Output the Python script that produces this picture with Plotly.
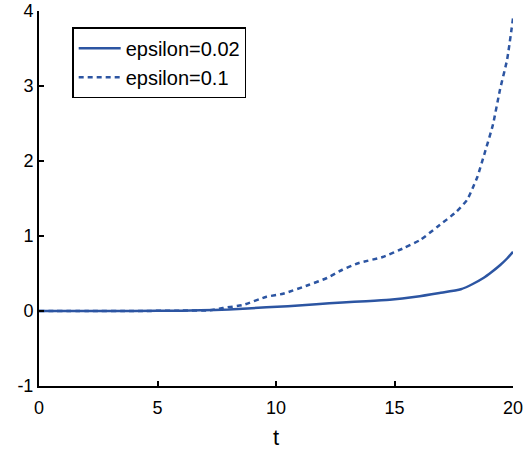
import plotly.graph_objects as go

t_small = [0, 2, 4, 6, 6.8, 8, 9.6, 10.5, 11.7, 12.8, 13.8, 14.8, 15.9, 16.9, 17.8, 18.3, 18.75, 19.1, 19.45, 19.75, 20]
y_small = [0, 0, 0, 0.005, 0.01, 0.02, 0.05, 0.065, 0.09, 0.115, 0.13, 0.15, 0.19, 0.24, 0.29, 0.36, 0.44, 0.52, 0.61, 0.70, 0.79]

t_large = [0, 2, 4, 6, 7.2, 7.76, 8.6, 9.6, 10.3, 11.4, 12.15, 12.8, 13.5, 14.5, 15.4, 16.1, 16.8, 17.6, 18.06, 18.3, 18.5, 18.8, 19.15, 19.45, 19.75, 20]
y_large = [0, 0, 0, 0.005, 0.01, 0.04, 0.08, 0.19, 0.23, 0.35, 0.44, 0.55, 0.64, 0.72, 0.84, 0.95, 1.12, 1.32, 1.48, 1.64, 1.79, 2.1, 2.48, 2.95, 3.35, 3.9]

x_ticks = [0, 5, 10, 15, 20]
x_labels = ["0", "5", "10", "15", "20"]
y_ticks = [-1, 0, 1, 2, 3, 4]
y_labels = ["-1", "0", "1", "2", "3", "4"]

color = "#2c55a2"

fig = go.Figure()
fig.add_trace(go.Scatter(x=t_small, y=y_small, mode="lines", name="epsilon=0.02",
                         line=dict(color=color, width=2.5, shape="spline", smoothing=0.5)))
fig.add_trace(go.Scatter(x=t_large, y=y_large, mode="lines", name="epsilon=0.1",
                         line=dict(color=color, width=2.5, dash="5px,4px", shape="spline", smoothing=0.5)))

fig.update_layout(
    width=526, height=450,
    margin=dict(l=39, r=13, t=11, b=64),
    paper_bgcolor="white", plot_bgcolor="white",
    font=dict(family="Liberation Sans, Arial, sans-serif", size=18, color="black"),
    showlegend=True,
    legend=dict(x=0.07, y=0.957, xanchor="left", yanchor="top",
                bordercolor="black", borderwidth=1.5, bgcolor="white",
                font=dict(size=20), tracegroupgap=0, itemwidth=42),
    xaxis=dict(range=[0, 20], tickvals=x_ticks, ticktext=x_labels, ticks="inside", ticklen=5, tickwidth=1.5,
               tickcolor="black", showline=True, linecolor="black", linewidth=2, automargin=False,
               ticklabelstandoff=4,
               showgrid=False, zeroline=False, title=dict(text="t", standoff=14)),
    yaxis=dict(range=[-1, 4], tickvals=y_ticks, ticktext=y_labels, ticks="inside", ticklen=5, tickwidth=1.5,
               tickcolor="black", showline=True, linecolor="black", linewidth=2, automargin=False,
               showgrid=False, zeroline=False),
)

fig.write_html("out.html", config={"displayModeBar": False},
               post_script="document.body.style.margin='0px';")
